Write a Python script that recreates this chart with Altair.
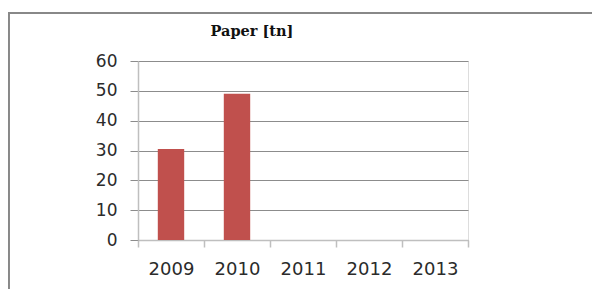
import altair as alt
import pandas as pd

years = ["2009", "2010", "2011", "2012", "2013"]
paper_tn = [30.5, 49.0, 0, 0, 0]
y_ticks = [0, 10, 20, 30, 40, 50, 60]
title_text = "Paper [tn]"

df = pd.DataFrame({"year": years, "value": paper_tn})

bars = alt.Chart(df).mark_bar(
    color="#C0504D", width=alt.RelativeBandSize(0.4)
).encode(
    x=alt.X(
        "year:N",
        sort=years,
        scale=alt.Scale(paddingInner=0, paddingOuter=0),
        axis=alt.Axis(
            title=None, labelAngle=0, tickBand="extent", grid=False,
            domainColor="#bfbfbf", domainWidth=1.5,
            tickColor="#bfbfbf", tickWidth=1.5, tickSize=7,
            labelFont="DejaVu Sans", labelFontSize=18, labelColor="#2b2b2b",
            labelPadding=13,
        ),
    ),
    y=alt.Y(
        "value:Q",
        scale=alt.Scale(domain=[0, 60], nice=False),
        axis=alt.Axis(
            title=None, values=y_ticks, grid=True, gridColor="#8c8c8c", gridWidth=1,
            domainColor="#bfbfbf", domainWidth=1.5,
            tickColor="#8c8c8c", tickWidth=1, tickSize=8,
            labelFont="DejaVu Sans", labelFontSize=17, labelColor="#2b2b2b",
            labelPadding=13,
        ),
    ),
)

title_df = pd.DataFrame({"t": [title_text]})
title = alt.Chart(title_df).mark_text(
    font="DejaVu Serif", fontSize=14.5, fontWeight="bold", color="#111111",
    align="center", baseline="alphabetic",
).encode(text="t:N", x=alt.value(114), y=alt.value(-25))

border_left = alt.Chart(df).mark_rule(color="#888888", strokeWidth=2).encode(
    x=alt.value(-129.5), y=alt.value(-48), y2=alt.value(240)
)
border_top = alt.Chart(df).mark_rule(color="#888888", strokeWidth=2).encode(
    x=alt.value(-130.5), x2=alt.value(470), y=alt.value(-48)
)

chart = alt.layer(bars, title, border_left, border_top).properties(
    width=330,
    height=179,
    autosize=alt.AutoSizeParams(type="none"),
    padding={"left": 130, "top": 53, "right": 124, "bottom": 49},
).configure_view(stroke=None).configure(background="white")

chart.save("out.html", embed_options={"renderer": "svg", "actions": False})
